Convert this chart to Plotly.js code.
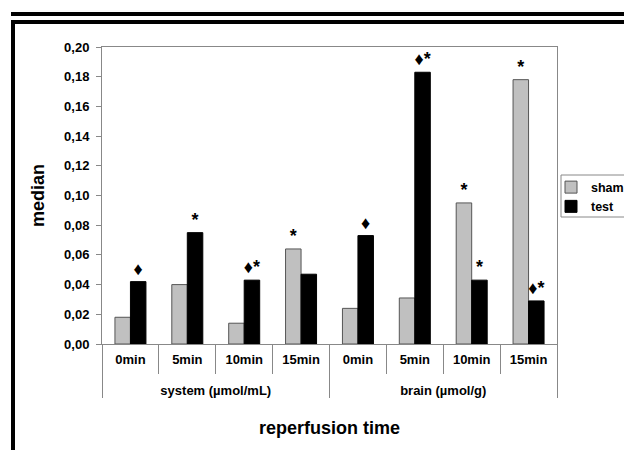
<!DOCTYPE html>
<html>
<head>
<meta charset="utf-8">
<script src="https://cdn.plot.ly/plotly-3.0.1.min.js"></script>
<style>
  html, body { margin: 0; padding: 0; background: #fff; overflow: hidden; }
  #wrap { position: relative; width: 624px; height: 450px; }
  #chart { position: absolute; left: 0; top: 0; width: 624px; height: 450px; }
  #topbar { position: absolute; left: 11px; top: 12px; width: 613px; height: 4px; background: #000; pointer-events: none; }
  #frame { position: absolute; left: 11px; top: 20px; width: 640px; height: 460px; border-left: 4px solid #000; border-top: 4px solid #000; pointer-events: none; }
</style>
</head>
<body>
<div id="wrap">
  <div id="chart"></div>
  <div id="topbar"></div>
  <div id="frame"></div>
</div>
<script>
// ---- data ----
const groups = ['system (µmol/mL)', 'system (µmol/mL)', 'system (µmol/mL)', 'system (µmol/mL)',
                'brain (µmol/g)', 'brain (µmol/g)', 'brain (µmol/g)', 'brain (µmol/g)'];
const times = ['0min', '5min', '10min', '15min', '0min', '5min', '10min', '15min'];
const sham = [0.018, 0.040, 0.014, 0.064, 0.024, 0.031, 0.095, 0.178];
const test = [0.042, 0.075, 0.043, 0.047, 0.073, 0.183, 0.043, 0.029];
const shamMarks = ['', '', '', '*', '', '', '*', '*'];
const testMarks = ['♦', '*', '♦*', '', '♦', '♦*', '*', '♦*'];
const yTickVals = [0, 0.02, 0.04, 0.06, 0.08, 0.10, 0.12, 0.14, 0.16, 0.18, 0.20];

const FONT = 'Liberation Sans, Arial, sans-serif';
const fmtMark = s => s.replace('♦', '<span style="font-size:18px">♦</span>');
// inner labels get an empty second line so the group row sits lower, as in the reference
const timeLabels = times.map(t => t + '<br>\u00A0');

const traces = [
  {
    type: 'bar', name: 'sham', x: [groups, timeLabels], y: sham,
    marker: { color: '#c0c0c0', line: { color: '#555555', width: 1 } },
    text: shamMarks.map(fmtMark), textposition: 'outside', cliponaxis: false,
    constraintext: 'none', textfont: { family: FONT, size: 18, color: '#000', weight: 'bold' },
    hoverinfo: 'none'
  },
  {
    type: 'bar', name: 'test', x: [groups, timeLabels], y: test,
    marker: { color: '#000000', line: { color: '#000000', width: 1 } },
    text: testMarks.map(fmtMark), textposition: 'outside', cliponaxis: false,
    constraintext: 'none', textfont: { family: FONT, size: 18, color: '#000', weight: 'bold' },
    hoverinfo: 'none'
  }
];

const layout = {
  width: 624, height: 450,
  margin: { l: 102, r: 67, t: 47, b: 106, autoexpand: false },
  paper_bgcolor: '#fff', plot_bgcolor: '#fff',
  separators: ',.',
  barmode: 'group', bargap: 0.455, bargroupgap: 0,
  font: { family: FONT, color: '#000' },
  showlegend: true,
  legend: {
    x: (551 - 102) / 455, xanchor: 'left', y: 0.495, yanchor: 'middle',
    bgcolor: 'rgba(0,0,0,0)', borderwidth: 0,
    font: { family: FONT, size: 12.5, weight: 'bold', color: '#000' },
    tracegroupgap: 0, itemwidth: 30
  },
  shapes: [
    { type: 'rect', xref: 'paper', yref: 'paper',
      x0: (561 - 102) / 455, x1: (640 - 102) / 455,
      y0: (344 - 217) / 297, y1: (344 - 175) / 297,
      line: { color: '#888', width: 1 }, fillcolor: 'rgba(0,0,0,0)', layer: 'below' }
  ],
  xaxis: {
    type: 'multicategory',
    showline: true, linecolor: '#888', linewidth: 1, mirror: true,
    ticks: 'outside', ticklen: 29, tickcolor: '#888', tickwidth: 1,
    showdividers: true, dividercolor: '#888', dividerwidth: 1,
    tickfont: { family: FONT, size: 13, weight: 'bold', color: '#000' },
    ticklabelstandoff: 3,
    showgrid: false, zeroline: false,
    title: { text: 'reperfusion time', font: { family: FONT, size: 18, weight: 'bold', color: '#000' }, standoff: 24 }
  },
  yaxis: {
    range: [0, 0.2], tickvals: yTickVals, tickformat: '.2f',
    showline: true, linecolor: '#888', linewidth: 1, mirror: true,
    ticks: 'outside', ticklen: 5, tickcolor: '#888', tickwidth: 1,
    ticklabelstandoff: 4,
    showgrid: false, zeroline: false,
    tickfont: { family: FONT, size: 13, weight: 'bold', color: '#000' },
    title: { text: 'median', font: { family: FONT, size: 18, weight: 'bold', color: '#000' }, standoff: 14 }
  }
};

Plotly.newPlot('chart', traces, layout, { displayModeBar: false, staticPlot: true });
</script>
</body>
</html>
